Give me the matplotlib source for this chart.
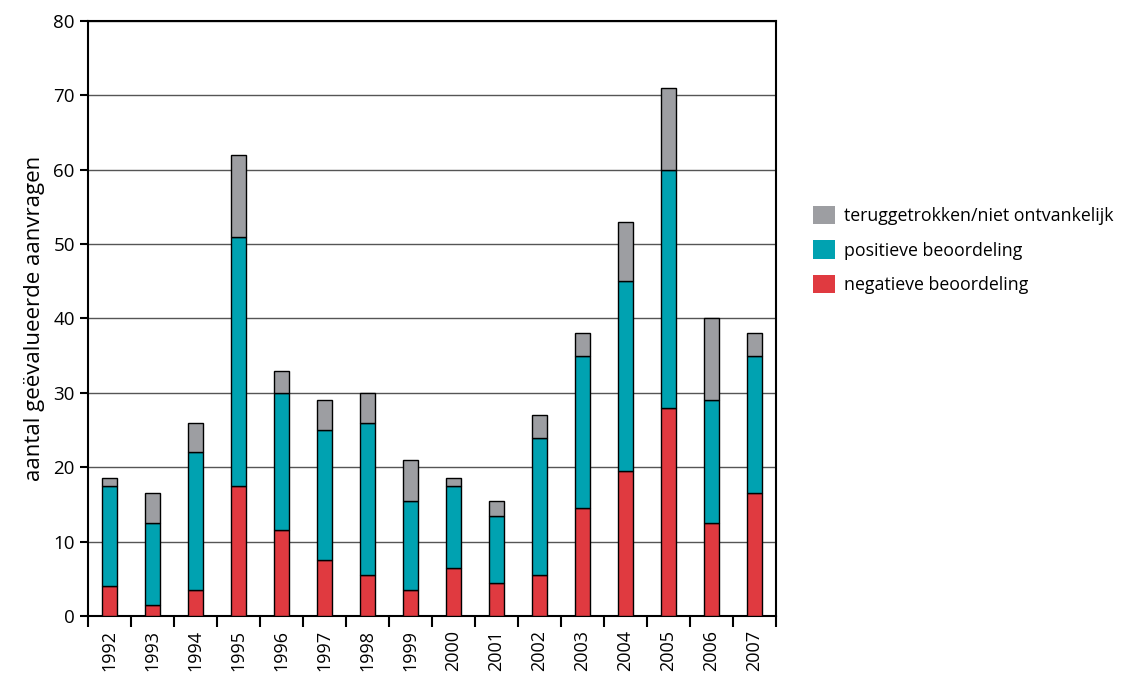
import numpy as np
import matplotlib.pyplot as plt
from matplotlib.patches import Patch

# Data
years = ["1992", "1993", "1994", "1995", "1996", "1997", "1998", "1999",
         "2000", "2001", "2002", "2003", "2004", "2005", "2006", "2007"]
negatief = [4, 1.5, 3.5, 17.5, 11.5, 7.5, 5.5, 3.5,
            6.5, 4.5, 5.5, 14.5, 19.5, 28, 12.5, 16.5]
positief_top = [17.5, 12.5, 22, 51, 30, 25, 26, 15.5,
                17.5, 13.5, 24, 35, 45, 60, 29, 35]
totaal = [18.5, 16.5, 26, 62, 33, 29, 30, 21,
          18.5, 15.5, 27, 38, 53, 71, 40, 38]
labels = ["teruggetrokken/niet ontvankelijk", "positieve beoordeling",
          "negatieve beoordeling"]

neg = np.array(negatief)
pos = np.array(positief_top) - neg
terug = np.array(totaal) - np.array(positief_top)

plt.rcParams["font.family"] = ["Open Sans", "DejaVu Sans"]

fig = plt.figure(figsize=(11.42, 6.75), dpi=100)
ax = fig.add_axes([0.0771, 0.0874, 0.6024, 0.8815])

x = np.arange(len(years))
w = 0.36
red = "#e03a40"
teal = "#00a2b1"
grey = "#9d9ea2"

ax.bar(x, neg, w, color=red, edgecolor="black", linewidth=1, zorder=3)
ax.bar(x, pos, w, bottom=neg, color=teal, edgecolor="black", linewidth=1, zorder=3)
ax.bar(x, terug, w, bottom=neg + pos, color=grey, edgecolor="black",
       linewidth=1, zorder=3)

ax.set_xlim(-0.5, len(years) - 0.5)
ax.set_ylim(0, 80)
ax.set_yticks(range(0, 81, 10))
ax.yaxis.grid(True, color="#555555", linewidth=1, zorder=0)

ax.set_xticks(x)
ax.set_xticklabels(years, rotation=90, fontsize=13)
ax.set_xticks(np.arange(-0.5, len(years), 1), minor=True)
ax.tick_params(axis="x", which="major", length=0, pad=10)
ax.tick_params(axis="x", which="minor", length=8, width=1.5, direction="out")
ax.tick_params(axis="y", length=6, width=1.5, labelsize=13.5)

for s in ax.spines.values():
    s.set_linewidth(1.5)
    s.set_color("black")

ax.set_ylabel("aantal geëvalueerde aanvragen", fontsize=16, labelpad=6)

handles = [Patch(facecolor=c, edgecolor="none") for c in [grey, teal, red]]
fig.legend(handles, labels, loc="upper left", bbox_to_anchor=(0.706, 0.705),
           frameon=False, fontsize=12.8, handlelength=1.2, handleheight=1.2,
           handletextpad=0.55, labelspacing=0.85, borderaxespad=0)

fig.savefig("out.png", dpi=100)
